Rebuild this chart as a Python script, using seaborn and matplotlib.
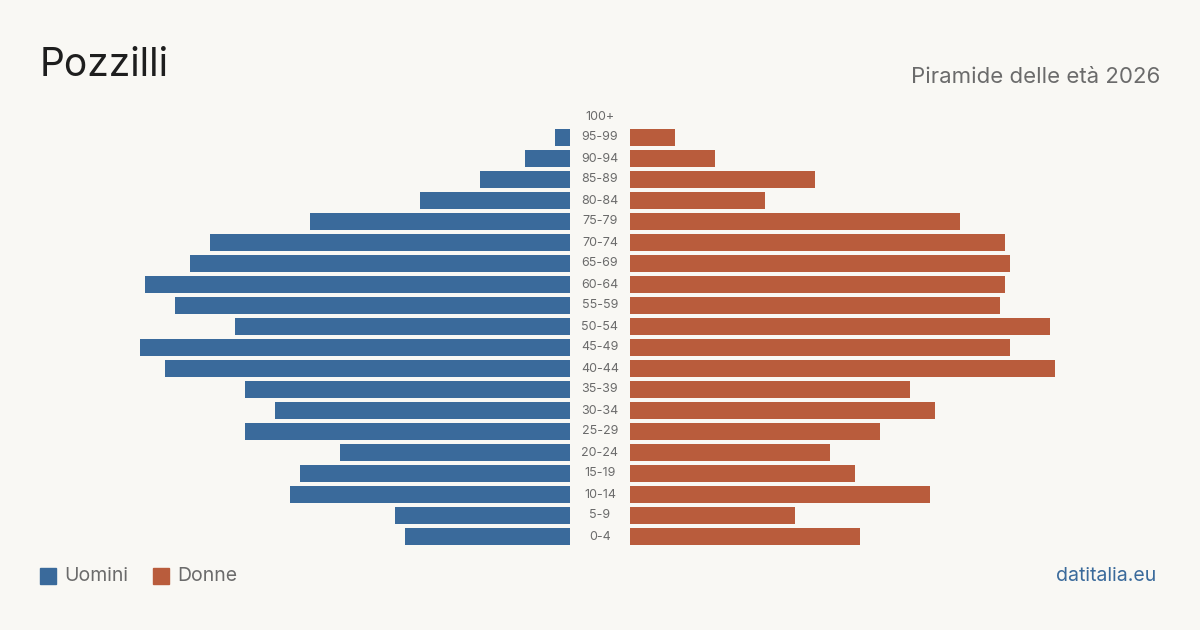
import seaborn as sns
import matplotlib.pyplot as plt
import pandas as pd
from matplotlib.patches import Rectangle
from matplotlib.transforms import blended_transform_factory

sns.set_theme(style="white")
plt.rcParams['font.family'] = ['Inter', 'DejaVu Sans']

# age groups, top to bottom
ages = ['100+', '95-99', '90-94', '85-89', '80-84', '75-79', '70-74', '65-69',
        '60-64', '55-59', '50-54', '45-49', '40-44', '35-39', '30-34', '25-29',
        '20-24', '15-19', '10-14', '5-9', '0-4']
uomini = [0, 3, 9, 18, 30, 52, 72, 76, 85, 79, 67, 86, 81, 65, 59, 65, 46, 54, 56, 35, 33]
donne = [0, 9, 17, 37, 27, 66, 75, 76, 75, 74, 84, 76, 85, 56, 61, 50, 40, 45, 60, 33, 46]

df = pd.DataFrame({'eta': ages, 'Uomini': uomini, 'Donne': donne})

bg = '#f9f8f4'
blue = '#3a6a9b'
red = '#b95c3c'

fig = plt.figure(figsize=(12, 6.3), dpi=100, facecolor=bg)
bottom = (630 - 547) / 630
height = (547 - 106) / 630
ax_l = fig.add_axes([40 / 1200, bottom, 530 / 1200, height])
ax_r = fig.add_axes([630 / 1200, bottom, 530 / 1200, height])

sns.barplot(data=df, y='eta', x='Uomini', order=ages, color=blue, width=0.8,
            saturation=1, linewidth=0, ax=ax_l)
sns.barplot(data=df, y='eta', x='Donne', order=ages, color=red, width=0.8,
            saturation=1, linewidth=0, ax=ax_r)

ax_l.set_xlim(106, 0)
ax_r.set_xlim(0, 106)
for ax in (ax_l, ax_r):
    ax.set_facecolor(bg)
    ax.set_ylim(len(ages) - 0.5, -0.5)
    ax.set_xlabel('')
    ax.set_ylabel('')
    ax.set_xticks([])
    ax.set_yticks([])
    sns.despine(ax=ax, left=True, bottom=True)

tr = blended_transform_factory(ax_r.transAxes, ax_r.transData)
for i, a in enumerate(ages):
    ax_r.text(-30 / 530, i, a, transform=tr, ha='center', va='center',
              fontsize=9, color='#6b6b6b')

fig.text(40 / 1200, 1 - 66 / 630, 'Pozzilli', fontsize=28, color='#1e1e1e',
         va='center', ha='left')
fig.text(1160 / 1200, 1 - 77 / 630, 'Piramide delle età 2026', fontsize=16,
         color='#6b6b6b', va='center', ha='right')

# legend
fig.patches.append(Rectangle((40 / 1200, 1 - 584 / 630), 16 / 1200, 16 / 630,
                             transform=fig.transFigure, color=blue))
fig.text(64 / 1200, 1 - 576 / 630, 'Uomini', fontsize=14, color='#6b6b6b',
         va='center', ha='left')
fig.patches.append(Rectangle((153 / 1200, 1 - 584 / 630), 16 / 1200, 16 / 630,
                             transform=fig.transFigure, color=red))
fig.text(177 / 1200, 1 - 576 / 630, 'Donne', fontsize=14, color='#6b6b6b',
         va='center', ha='left')
fig.text(1156 / 1200, 1 - 576 / 630, 'datitalia.eu', fontsize=14, color=blue,
         va='center', ha='right')

fig.savefig('out.png', dpi=100, facecolor=bg)
